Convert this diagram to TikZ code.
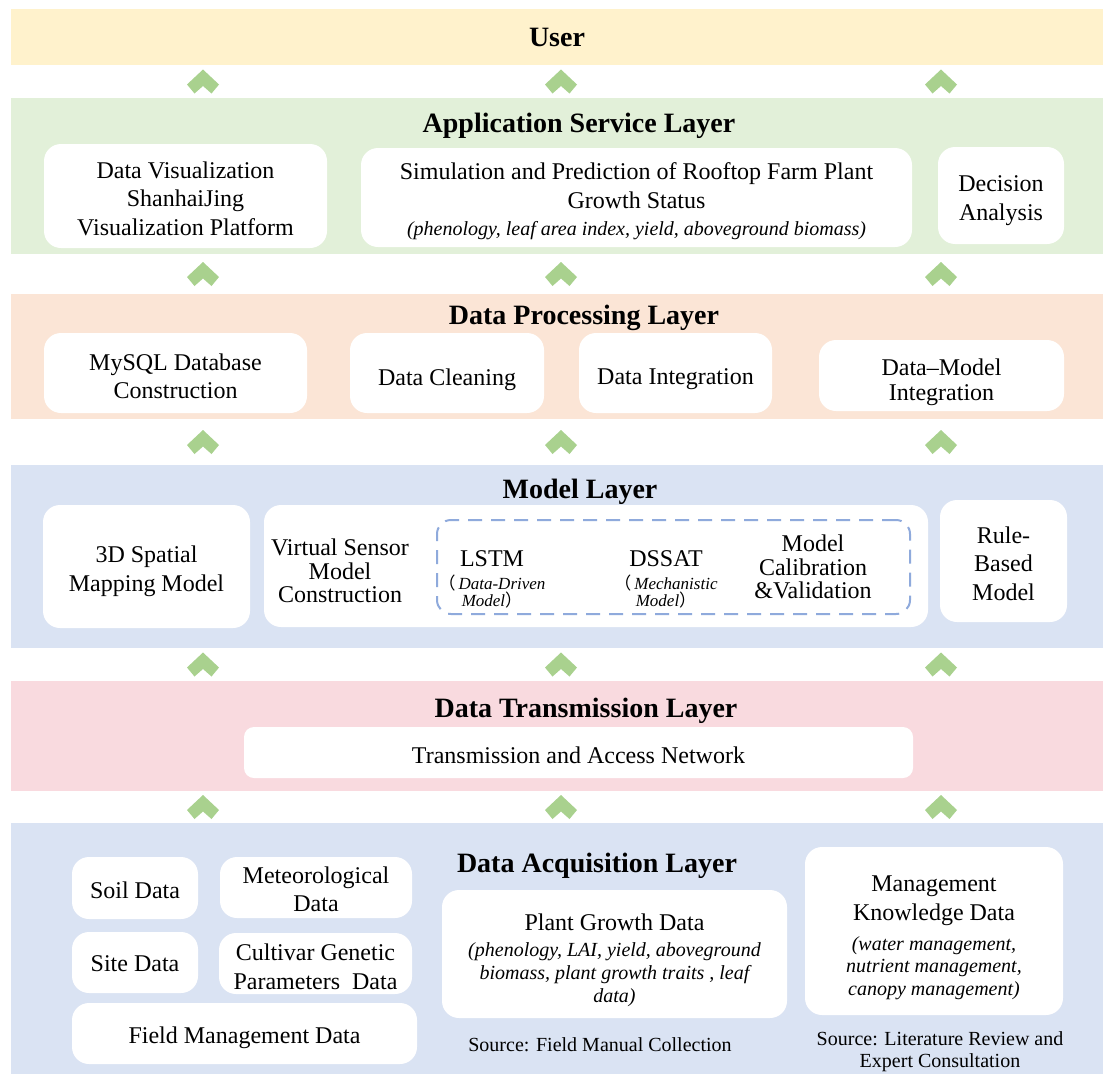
\documentclass[tikz,border=0pt]{standalone}
\usepackage{fontspec}
\setmainfont{Liberation Serif}
\newfontfamily\cjkfont{Noto Sans CJK SC}
\definecolor{cUser}{HTML}{FFF2CC}
\definecolor{cApp}{HTML}{E2F0D9}
\definecolor{cProc}{HTML}{FBE5D6}
\definecolor{cModel}{HTML}{DAE3F3}
\definecolor{cTrans}{HTML}{F9DADF}
\definecolor{cArrow}{HTML}{A9D18E}
\definecolor{cDash}{HTML}{8FAADC}
\newcommand\bodyfnt{\fontsize{24}{28.5}\selectfont}
\newcommand\ttlfnt{\fontsize{28}{32}\selectfont\bfseries}
\newcommand\itfnt{\fontsize{20}{22.5}\selectfont\itshape}
\newcommand\smitfnt{\fontsize{17}{17}\selectfont\itshape}
\newcommand\srcfnt{\fontsize{20}{22.5}\selectfont}
% white rounded box (name, x, y, w, h) with its text placed at (x, texty)
\newcommand\bx[8][]{%
  \node[wbox, minimum width=#5pt, minimum height=#6pt] (#2) at (#3,#4) {};
  \node[txt,#1] (#2t) at (#3,#7) {#8};}
\begin{document}
\begin{tikzpicture}[x=1pt,y=-1pt,
  band/.style={rectangle, inner sep=0pt, outer sep=0pt, minimum width=1092pt},
  wbox/.style={rectangle, fill=white, rounded corners=17pt, inner sep=0pt},
  ttl/.style={inner sep=0pt, font=\ttlfnt},
  txt/.style={inner sep=0pt, align=center, font=\bodyfnt},
  src/.style={inner sep=0pt, align=center, font=\srcfnt},
  chev/.pic={\fill[cArrow] (0,0) -- (16,15) -- (8.5,24) -- (0,16.5) -- (-8.5,24) -- (-16,15) -- cycle;}
]
\useasboundingbox (0,0) rectangle (1111,1084);
\fill[white] (0,0) rectangle (1111,1084);

% ---------- bands ----------
\node[band, fill=cUser, minimum height=56pt, font=\ttlfnt] (user) at (557,37) {User};
\node[band, fill=cApp, minimum height=156pt] (app) at (557,176) {};
\node[band, fill=cProc, minimum height=125pt] (proc) at (557,356.5) {};
\node[band, fill=cModel, minimum height=183pt] (model) at (557,556.5) {};
\node[band, fill=cTrans, minimum height=110pt] (trans) at (557,736) {};
\node[band, fill=cModel, minimum height=251pt] (acq) at (557,948.5) {};

% ---------- chevrons between layers ----------
\foreach \cx in {203,561,941}{
  \pic at (\cx,69.5) {chev};
  \pic at (\cx,262) {chev};
  \pic at (\cx,430) {chev};
  \pic at (\cx,652.5) {chev};
  \pic at (\cx,795) {chev};
}

% ---------- Application Service Layer ----------
\node[ttl] (appT) at (579,126) {Application Service Layer};
\bx{dviz}{185.5}{196}{283}{104}{198.5}{Data Visualization\\ShanhaiJing\\Visualization Platform}
\bx{sim}{636.5}{197.5}{551}{99}{201.5}{Simulation and Prediction of Rooftop Farm Plant\\Growth Status\\[-1pt]
   \itfnt (phenology, leaf area index, yield, aboveground biomass)}
\bx{dec}{1001}{195.5}{126}{97}{200.5}{Decision\\Analysis}

% ---------- Data Processing Layer ----------
\node[ttl] (procT) at (584,318) {Data Processing Layer};
\bx{mysql}{175.5}{373}{263}{80}{376.5}{MySQL Database\\Construction}
\bx{clean}{447}{373}{194}{80}{379.5}{Data Cleaning}
\bx{integ}{675.5}{373}{193}{80}{379.5}{Data Integration}
\bx[font=\fontsize{24}{25}\selectfont]{dmi}{941.5}{375.5}{245}{71}{382}{Data--Model\\Integration}

% ---------- Model Layer ----------
\node[ttl] (modelT) at (580,492) {Model Layer};
\bx{spatial}{146.5}{566.5}{207}{123}{571.5}{3D Spatial\\Mapping Model}
\node[wbox, minimum width=664pt, minimum height=122pt] (mbig) at (596,566) {};
\bx{rule}{1003.5}{561}{127}{122}{563.5}{Rule-\\Based\\Model}
\node[draw=cDash, line width=2pt, dash pattern=on 14pt off 9pt, rounded corners=14pt,
      minimum width=473pt, minimum height=94pt, inner sep=0pt] (mdash) at (673.5,567) {};
\node[txt, font=\fontsize{24}{23.5}\selectfont] (vsensor) at (340,571)
  {Virtual Sensor\\Model\\Construction};
\node[txt, font=\fontsize{24}{17}\selectfont] (lstm) at (492,579)
  {LSTM\\[6pt]\smitfnt{\cjkfont （}\hspace{3pt}Data-Driven\\\smitfnt Model{\cjkfont ）}};
\node[txt, font=\fontsize{24}{17}\selectfont] (dssat) at (666,579)
  {DSSAT\\[6pt]\smitfnt{\cjkfont （}\hspace{3pt}Mechanistic\\\smitfnt Model{\cjkfont ）}};
\node[txt, font=\fontsize{24}{23.5}\selectfont] (calib) at (813,567)
  {Model\\Calibration\\\&Validation};

% ---------- Data Transmission Layer ----------
\node[ttl] (transT) at (586,711) {Data Transmission Layer};
\node[wbox, rounded corners=10pt, minimum width=669pt, minimum height=51pt] (net) at (578.5,752.5) {};
\node[txt] (nett) at (578.5,755.5) {Transmission and Access Network};

% ---------- Data Acquisition Layer ----------
\node[ttl] (acqT) at (597,866) {Data Acquisition Layer};
\bx{soil}{135}{888}{126}{62}{890}{Soil Data}
\bx{meteo}{316}{887.5}{192}{61}{889.5}{Meteorological\\Data}
\bx{site}{135}{962.5}{126}{61}{963.5}{Site Data}
\bx{cultivar}{315.5}{963.5}{193}{61}{967}{Cultivar Genetic\\Parameters\ \ Data}
\bx{field}{244.5}{1033.5}{345}{61}{1037.5}{Field Management Data}
\bx[font=\fontsize{24}{23}\selectfont]{plant}{614.5}{954}{345}{128}{960.5}{Plant Growth Data\\[3pt]
   \itfnt (phenology, LAI, yield, aboveground\\\itfnt biomass, plant growth traits , leaf\\\itfnt data)}
\bx[font=\fontsize{24}{22.5}\selectfont]{mgmt}{934}{931}{258}{168}{937.5}{Management\\[6.5pt]Knowledge Data\\[7.5pt]
   \itfnt (water management,\\\itfnt nutrient management,\\\itfnt canopy management)}
\node[src] (src1) at (600,1045) {Source: Field Manual Collection};
\node[src] (src2) at (940,1051.5) {Source: Literature Review and\\Expert Consultation};
\end{tikzpicture}
\end{document}
